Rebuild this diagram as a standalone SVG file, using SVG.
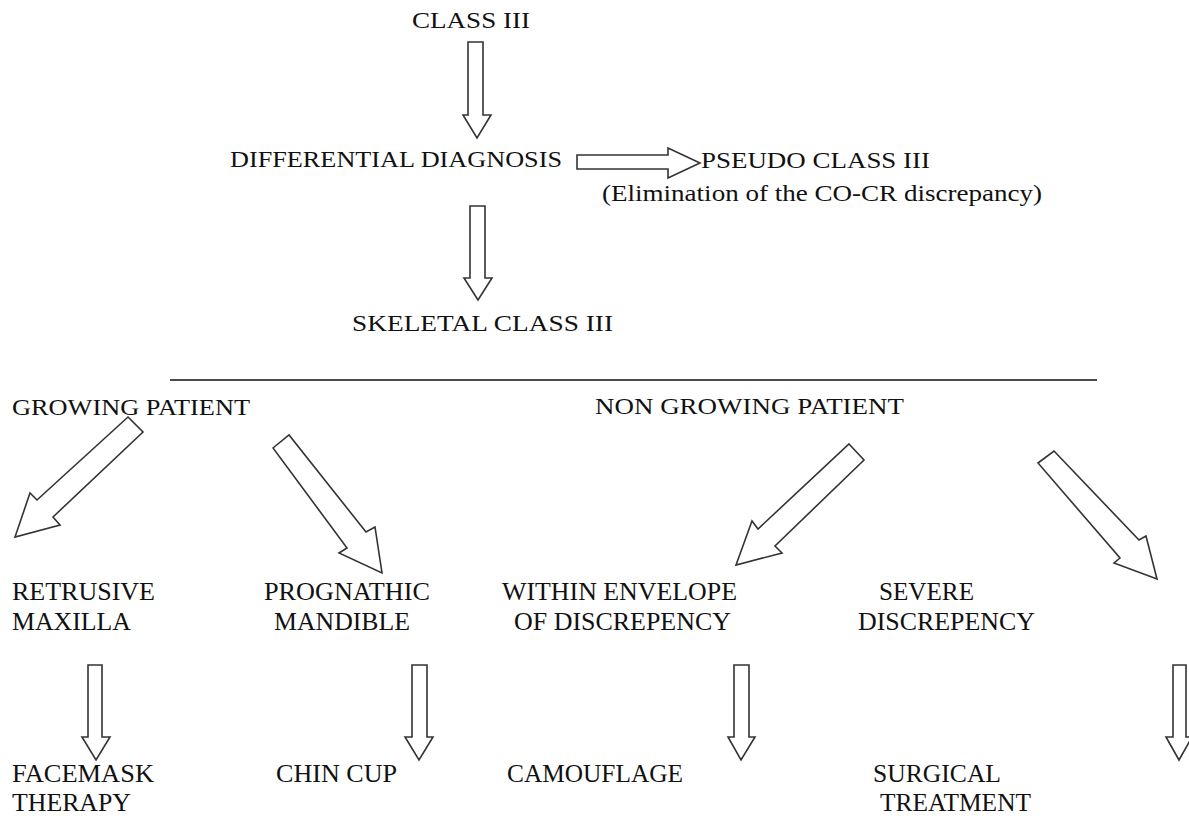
<svg xmlns="http://www.w3.org/2000/svg" width="1189" height="816" viewBox="0 0 1189 816">
<style>
text{font-family:"Liberation Serif","Times New Roman",Times,serif;fill:#111}
.t{font-size:24px}
.b{font-size:26px}
.a{fill:#fff;stroke:#333;stroke-width:1.6;stroke-linejoin:miter}
</style>
<rect width="1189" height="816" fill="#fff"/>
<g id="connectors">
<polygon class="a" points="468,42 483,42 483,115 491,115 477,138 463,115 468,115"/>
<polygon class="a" points="470,206 485,206 485,278 492,278 478,300 464,278 470,278"/>
<polygon class="a" points="577,155 668,155 668,148 700,163 668,178 668,169 577,169"/>
<line x1="170" y1="380" x2="1097" y2="380" stroke="#111" stroke-width="1.6"/>
<polygon class="a" points="128,417 143,432 53,517 60,525 15,537 30,493 37,500"/>
<polygon class="a" points="273,448 289,435 366,532 375,527 382,573 339,553 347,548"/>
<polygon class="a" points="849,444 864,460 775,546 782,553 736,565 752,521 758,529"/>
<polygon class="a" points="1038,463 1054,451 1139,540 1146,536 1157,579 1114,563 1120,558"/>
<polygon class="a" points="88,665 102,665 102,737 110,737 96,760 82,737 88,737"/>
<polygon class="a" points="412,665 427,665 427,737 433,737 419,760 405,737 412,737"/>
<polygon class="a" points="734,665 749,665 749,737 755,737 741,760 728,737 734,737"/>
<polygon class="a" points="1173,665 1186,665 1186,737 1192,737 1179,760 1166,737 1173,737"/>
</g>
<g id="n-class3"><text class="t" x="412" y="28" textLength="118" lengthAdjust="spacingAndGlyphs">CLASS  III</text></g>
<g id="n-diff"><text class="t" x="230" y="167" textLength="332" lengthAdjust="spacingAndGlyphs">DIFFERENTIAL  DIAGNOSIS</text></g>
<g id="n-pseudo">
<text class="t" x="701" y="168" textLength="229" lengthAdjust="spacingAndGlyphs">PSEUDO  CLASS  III</text>
<text class="t" x="602" y="201" textLength="440" lengthAdjust="spacingAndGlyphs">(Elimination of the CO-CR discrepancy)</text>
</g>
<g id="n-skeletal"><text class="t" x="352" y="331" textLength="261" lengthAdjust="spacingAndGlyphs">SKELETAL  CLASS  III</text></g>
<g id="n-growing"><text class="t" x="12" y="415" textLength="238" lengthAdjust="spacingAndGlyphs">GROWING PATIENT</text></g>
<g id="n-nongrowing"><text class="t" x="595" y="414" textLength="309" lengthAdjust="spacingAndGlyphs">NON  GROWING PATIENT</text></g>
<g id="n-retrusive">
<text class="b" x="12" y="600" textLength="143" lengthAdjust="spacingAndGlyphs">RETRUSIVE</text>
<text class="b" x="12" y="630" textLength="119" lengthAdjust="spacingAndGlyphs">MAXILLA</text>
</g>
<g id="n-prognathic">
<text class="b" x="264" y="600" textLength="166" lengthAdjust="spacingAndGlyphs">PROGNATHIC</text>
<text class="b" x="274" y="630" textLength="136" lengthAdjust="spacingAndGlyphs">MANDIBLE</text>
</g>
<g id="n-within">
<text class="b" x="502" y="600" textLength="235" lengthAdjust="spacingAndGlyphs">WITHIN ENVELOPE</text>
<text class="b" x="514" y="630" textLength="217" lengthAdjust="spacingAndGlyphs">OF DISCREPENCY</text>
</g>
<g id="n-severe">
<text class="b" x="879" y="600" textLength="95" lengthAdjust="spacingAndGlyphs">SEVERE</text>
<text class="b" x="858" y="630" textLength="177" lengthAdjust="spacingAndGlyphs">DISCREPENCY</text>
</g>
<g id="n-facemask">
<text class="b" x="12" y="782" textLength="142" lengthAdjust="spacingAndGlyphs">FACEMASK</text>
<text class="b" x="12" y="811" textLength="119" lengthAdjust="spacingAndGlyphs">THERAPY</text>
</g>
<g id="n-chincup"><text class="b" x="276" y="782" textLength="121" lengthAdjust="spacingAndGlyphs">CHIN CUP</text></g>
<g id="n-camouflage"><text class="b" x="507" y="782" textLength="176" lengthAdjust="spacingAndGlyphs">CAMOUFLAGE</text></g>
<g id="n-surgical">
<text class="b" x="873" y="782" textLength="128" lengthAdjust="spacingAndGlyphs">SURGICAL</text>
<text class="b" x="880" y="811" textLength="151" lengthAdjust="spacingAndGlyphs">TREATMENT</text>
</g>
</svg>
